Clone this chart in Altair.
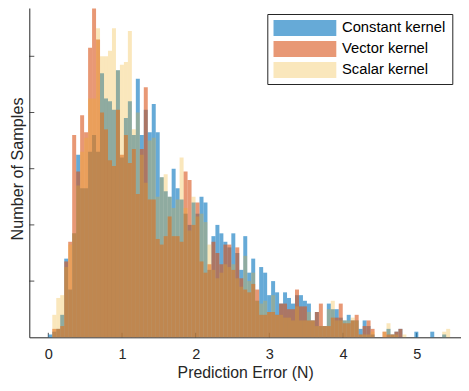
import altair as alt
import pandas as pd

# ---------------- data ----------------
BIN_WIDTH = 0.054  # histogram bin width (N); bins start at 0

series_names = ["Constant kernel", "Vector kernel", "Scalar kernel"]

constant_kernel = [
    1, 2, 3, 8, 28, 17, 37, 65, 53, 53,
    66, 72, 66, 94, 85, 84, 81, 95, 64, 78,
    84, 72, 92, 72, 81, 73, 83, 73, 57, 52,
    50, 60, 53, 49, 44, 40, 48, 44, 50, 48,
    24, 36, 40, 37, 34, 32, 37, 30, 24, 36,
    23, 28, 13, 25, 23, 15, 20, 16, 12, 16,
    14, 12, 15, 15, 13, 12, 6, 9, 4, 4,
    12, 10, 10, 7, 6, 8, 6, 6, 3, 6,
    4, 1, 0, 0, 0, 3, 1, 2, 3, 0,
    0, 0, 2, 0, 0, 0, 2, 0, 0, 1, 0,
]

vector_kernel = [
    0, 3, 3, 4, 27, 34, 72, 59, 79, 73,
    103, 117, 106, 80, 74, 63, 61, 81, 65, 72,
    62, 67, 51, 67, 89, 49, 49, 35, 33, 36,
    43, 36, 36, 34, 59, 56, 40, 48, 27, 23,
    26, 34, 30, 26, 33, 33, 24, 32, 21, 17,
    16, 19, 17, 8, 8, 9, 9, 8, 12, 12,
    10, 10, 17, 11, 11, 6, 6, 9, 12, 4,
    4, 7, 7, 12, 5, 5, 6, 8, 1, 4,
    6, 3, 0, 0, 2, 1, 1, 2, 3, 0,
    0, 0, 0, 0, 0, 0, 0, 0, 0, 0, 0,
]

scalar_kernel = [
    0, 8, 14, 15, 25, 33, 37, 54, 66, 71,
    85, 85, 110, 100, 100, 102, 110, 95, 97, 98,
    109, 74, 80, 65, 55, 70, 71, 50, 57, 58,
    50, 46, 49, 64, 46, 38, 50, 43, 44, 41,
    33, 24, 21, 23, 26, 25, 26, 21, 18, 29,
    20, 23, 13, 12, 13, 9, 15, 8, 8, 7,
    7, 6, 11, 6, 6, 9, 6, 4, 4, 4,
    10, 13, 6, 6, 6, 6, 7, 6, 1, 1,
    1, 2, 0, 0, 2, 5, 1, 1, 0, 1,
    0, 0, 0, 0, 0, 0, 0, 0, 0, 2, 3,
]

x_ticks = [0, 1, 2, 3, 4, 5]
y_ticks = [20, 40, 60, 80, 100]

series_colors = ["#0072BD", "#D95319", "#EDB120"]
series_alpha = [0.6, 0.6, 0.3]

# ---------------- build table ----------------
rows = []
for i, (name, counts) in enumerate(zip(series_names, [constant_kernel, vector_kernel, scalar_kernel])):
    for k, c in enumerate(counts):
        if c > 0:
            rows.append({"series": name, "ord": i,
                         "x0": k * BIN_WIDTH, "x1": (k + 1) * BIN_WIDTH, "count": c})
df = pd.DataFrame(rows)

W, H = 431.7, 329.3
FONT = "Liberation Sans"
DARK = "#262626"

xscale = alt.Scale(domain=[-0.258, 5.601], nice=False, zero=False)
yscale = alt.Scale(domain=[0, 117.19], nice=False, zero=False)

x_axis = alt.Axis(values=x_ticks, ticks=False, grid=False,
                  title="Prediction Error (N)", labelFontSize=14.5,
                  labelPadding=10.5, titleFontSize=15.8, titleY=40.3,
                  titleBaseline="alphabetic")
y_axis = alt.Axis(values=y_ticks, labels=False, ticks=False, grid=False,
                  title="Number of Samples", titleFontSize=16.2,
                  titleX=-6.5, titleY=160.5, titleBaseline="alphabetic")

legend_props = dict(
    title=None, orient="none", legendX=238, legendY=6,
    strokeColor=DARK, fillColor="white", padding=6,
    symbolType="M-1,-0.254H1V0.254H-1Z", symbolSize=3969,
    symbolStrokeWidth=0, clipHeight=16, rowPadding=5,
    labelOffset=5.7, labelFont=FONT, labelFontSize=14.75,
    labelColor="black", labelLimit=0,
)

bars = alt.Chart(df).mark_rect().encode(
    x=alt.X("x0:Q", scale=xscale, axis=x_axis, title="Prediction Error (N)"),
    x2="x1:Q",
    y=alt.Y("count:Q", scale=yscale, axis=y_axis, title="Number of Samples"),
    y2=alt.datum(0),
    color=alt.Color("series:N",
                    scale=alt.Scale(type="ordinal", domain=series_names, range=series_colors),
                    legend=alt.Legend(**legend_props)),
    opacity=alt.Opacity("series:N",
                        scale=alt.Scale(type="ordinal", domain=series_names, range=series_alpha),
                        legend=alt.Legend(**legend_props)),
    order=alt.Order("ord:Q"),
)

xt = alt.Chart(pd.DataFrame({"v": x_ticks})).mark_rule(color=DARK, strokeWidth=0.8).encode(
    x=alt.X("v:Q", scale=xscale, axis=x_axis, title="Prediction Error (N)"),
    y=alt.value(H), y2=alt.value(H - 4.5),
)
yt = alt.Chart(pd.DataFrame({"c": y_ticks})).mark_rule(color=DARK, strokeWidth=0.8).encode(
    y=alt.Y("c:Q", scale=yscale, axis=y_axis, title="Number of Samples"),
    x=alt.value(0), x2=alt.value(5),
)

chart = alt.layer(xt, yt, bars).properties(
    width=W, height=H,
    autosize="none",
    padding={"left": 21.3, "top": 0, "right": 0, "bottom": 43.7},
).configure_view(stroke=None).configure_axis(
    domainColor=DARK, domainWidth=1, labelColor=DARK, titleColor=DARK,
    labelFont=FONT, titleFont=FONT, titleFontWeight="normal",
)

chart.save("out.html", embed_options={"renderer": "svg", "actions": False})
